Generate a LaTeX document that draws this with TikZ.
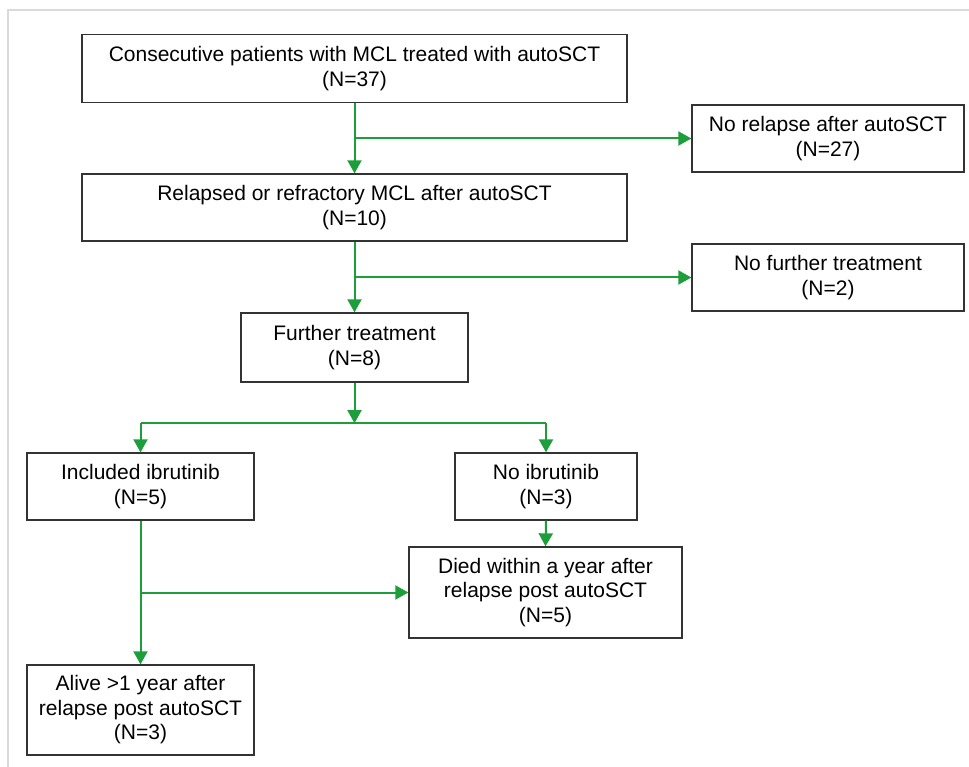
\documentclass[tikz,border=0pt]{standalone}
\usepackage{fontspec}
\setmainfont{Liberation Sans}
\usepackage{tikz}
\usetikzlibrary{arrows.meta,positioning,calc}
\definecolor{flowgreen}{RGB}{28,158,58}
\definecolor{frameg}{RGB}{218,218,218}

\tikzset{
  box/.style={draw=black!80,line width=1.3pt,align=center,inner sep=0pt,
    font=\fontsize{21}{24.5}\selectfont},
  flow/.style={flowgreen,line width=2pt},
  flowarr/.style={flow,-{Triangle[length=13pt,width=14pt]}}
}

\begin{document}
\begin{tikzpicture}[x=1pt,y=-1pt]
  \useasboundingbox (0,0) rectangle (969,767);
  % light frame
  \draw[frameg,line width=2pt] (8,767) -- (8,10) -- (969,10);
  % boxes
  \node[box,minimum width=545pt,minimum height=68pt] (top) at (354.5,68.5)
    {Consecutive patients with MCL treated with autoSCT\\(N=37)};
  \node[box,minimum width=272pt,minimum height=67pt] (norel) at (828,138.5)
    {No relapse after autoSCT\\(N=27)};
  \node[box,minimum width=545pt,minimum height=67pt] (relapsed) at (354.5,207.5)
    {Relapsed or refractory MCL after autoSCT\\(N=10)};
  \node[box,minimum width=272pt,minimum height=67pt] (nofurther) at (828,277.5)
    {No further treatment\\(N=2)};
  \node[box,minimum width=227pt,minimum height=69pt] (further) at (354.5,347.5)
    {Further treatment\\(N=8)};
  \node[box,minimum width=227pt,minimum height=67pt] (inclib) at (140.5,486.5)
    {Included ibrutinib\\(N=5)};
  \node[box,minimum width=182pt,minimum height=67pt] (noib) at (546,486.5)
    {No ibrutinib\\(N=3)};
  \node[box,minimum width=273pt,minimum height=91pt] (died) at (545.5,592.5)
    {Died within a year after\\relapse post autoSCT\\(N=5)};
  \node[box,minimum width=227pt,minimum height=90pt] (alive) at (140.5,710)
    {Alive >1 year after\\relapse post autoSCT\\(N=3)};
  % branch points
  \coordinate (b1) at (top.south |- norel.west);
  \coordinate (b2) at (relapsed.south |- nofurther.west);
  \coordinate (split) at ($(further.south)+(0,40.5)$);
  \coordinate (sl) at (inclib.north |- split);
  \coordinate (sr) at (noib.north |- split);
  \coordinate (b3) at (inclib.south |- died.west);
  % connectors
  \draw[flowarr] (top.south) -- (relapsed.north);
  \draw[flowarr] (b1) -- (norel.west);
  \draw[flowarr] (relapsed.south) -- (further.north);
  \draw[flowarr] (b2) -- (nofurther.west);
  \draw[flowarr] (further.south) -- (split);
  \draw[flow] (sl) -- (sr);
  \draw[flowarr] (sl) -- (inclib.north);
  \draw[flowarr] (sr) -- (noib.north);
  \draw[flowarr] (noib.south) -- (died.north);
  \draw[flowarr] (inclib.south) -- (alive.north);
  \draw[flowarr] (b3) -- (died.west);
\end{tikzpicture}
\end{document}
